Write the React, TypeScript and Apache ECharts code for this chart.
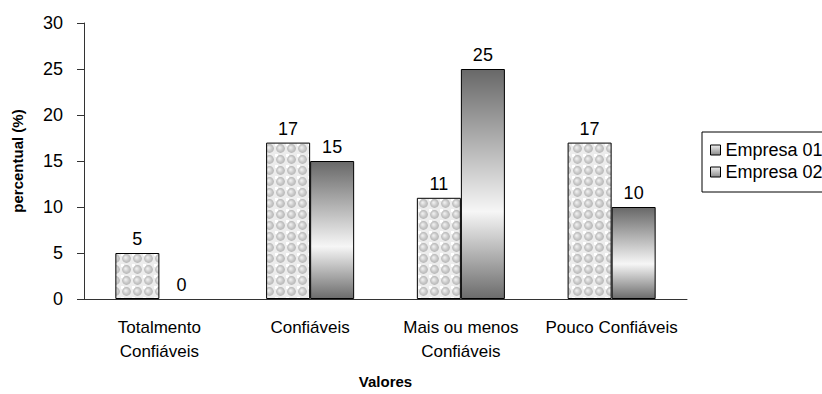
import React, { useEffect, useRef } from "react";
import * as echarts from "echarts";

// Categories and values (percent)
const categories = ["Totalmento\nConfiáveis", "Confiáveis", "Mais ou menos\nConfiáveis", "Pouco Confiáveis"];
const empresa01 = [5, 17, 11, 17];
const empresa02 = [0, 15, 25, 10];
const seriesNames = ["Empresa 01", "Empresa 02"];
const yTicks = { min: 0, max: 30, interval: 5 };

const FONT = "Liberation Sans, Arial, sans-serif";

// Tile of shaded grey spheres used as the fill of the first series
function makeSpherePattern(): HTMLCanvasElement {
  const size = 11;
  const c = document.createElement("canvas");
  c.width = size;
  c.height = size;
  const ctx = c.getContext("2d")!;
  ctx.fillStyle = "#ececec";
  ctx.fillRect(0, 0, size, size);
  ctx.fillStyle = "#ffffff";
  ctx.fillRect(0, 0, 3, 3);
  const g = ctx.createRadialGradient(4.5, 4.5, 0.5, 5.5, 5.5, 4.6);
  g.addColorStop(0, "#eeeeee");
  g.addColorStop(0.6, "#c8c8c8");
  g.addColorStop(1, "#b4b4b4");
  ctx.fillStyle = g;
  ctx.beginPath();
  ctx.arc(5.5, 5.5, 4.4, 0, Math.PI * 2);
  ctx.fill();
  return c;
}

// Zero-height bars get no outline so nothing is drawn for them
const toBarData = (values: number[]) =>
  values.map((v) => (v === 0 ? { value: v, itemStyle: { borderWidth: 0 } } : v));

export default function App() {
  const ref = useRef<HTMLDivElement>(null);

  useEffect(() => {
    if (!ref.current) return;
    const chart = echarts.init(ref.current, undefined, { renderer: "svg" });
    const pattern = makeSpherePattern();

    const metalGradient = new echarts.graphic.LinearGradient(0, 0, 0, 1, [
      { offset: 0, color: "#686868" },
      { offset: 0.62, color: "#f6f6f6" },
      { offset: 1, color: "#6c6c6c" },
    ]);

    const labelStyle = {
      show: true,
      position: "top" as const,
      distance: 5,
      color: "#000",
      fontFamily: FONT,
      fontSize: 18,
    };

    chart.setOption({
      animation: false,
      backgroundColor: "#fff",
      grid: { left: 84, right: 135, top: 23, bottom: 90 },
      legend: {
        orient: "vertical",
        left: 702,
        top: 132,
        padding: [9, 40, 11, 8],
        itemGap: 4,
        itemWidth: 10,
        itemHeight: 10,
        borderColor: "#000",
        borderWidth: 1,
        textStyle: { fontFamily: FONT, fontSize: 18, color: "#000" },
        data: seriesNames.map((n) => ({
          name: n,
          icon: "rect",
          itemStyle: {
            color: new echarts.graphic.LinearGradient(0, 0, 0, 1, [
              { offset: 0, color: "#f0f0f0" },
              { offset: 1, color: "#8a8a8a" },
            ]),
            borderColor: "#000",
            borderWidth: 1,
          },
        })),
      },
      xAxis: {
        type: "category",
        data: categories,
        name: "Valores",
        nameLocation: "middle",
        nameGap: 75,
        nameTextStyle: { fontFamily: FONT, fontSize: 15, fontWeight: "bold", color: "#000" },
        axisLine: { lineStyle: { color: "#333", width: 1 } },
        axisTick: { length: 6, lineStyle: { color: "#333" } },
        axisLabel: {
          margin: 16,
          fontFamily: FONT,
          fontSize: 17,
          lineHeight: 24,
          color: "#000",
          interval: 0,
        },
      },
      yAxis: {
        type: "value",
        min: yTicks.min,
        max: yTicks.max,
        interval: yTicks.interval,
        name: "percentual (%)",
        nameLocation: "middle",
        nameGap: 59,
        nameTextStyle: { fontFamily: FONT, fontSize: 15, fontWeight: "bold", color: "#000" },
        axisLine: { show: true, lineStyle: { color: "#333", width: 1 } },
        axisTick: { show: true, length: 7, lineStyle: { color: "#333" } },
        splitLine: { show: false },
        axisLabel: { margin: 21, fontFamily: FONT, fontSize: 18, color: "#000" },
      },
      series: [
        {
          name: seriesNames[0],
          type: "bar",
          data: toBarData(empresa01),
          barGap: "0%",
          barCategoryGap: "41.6%",
          itemStyle: {
            color: { image: pattern, repeat: "repeat" },
            borderColor: "#000",
            borderWidth: 1,
          },
          label: labelStyle,
        },
        {
          name: seriesNames[1],
          type: "bar",
          data: toBarData(empresa02),
          barGap: "0%",
          barCategoryGap: "41.6%",
          itemStyle: {
            color: metalGradient,
            borderColor: "#000",
            borderWidth: 1,
          },
          label: labelStyle,
        },
      ],
    });

    return () => chart.dispose();
  }, []);

  return (
    <div
      ref={ref}
      style={{ position: "fixed", left: 0, top: 0, width: 822, height: 394 }}
    />
  );
}
